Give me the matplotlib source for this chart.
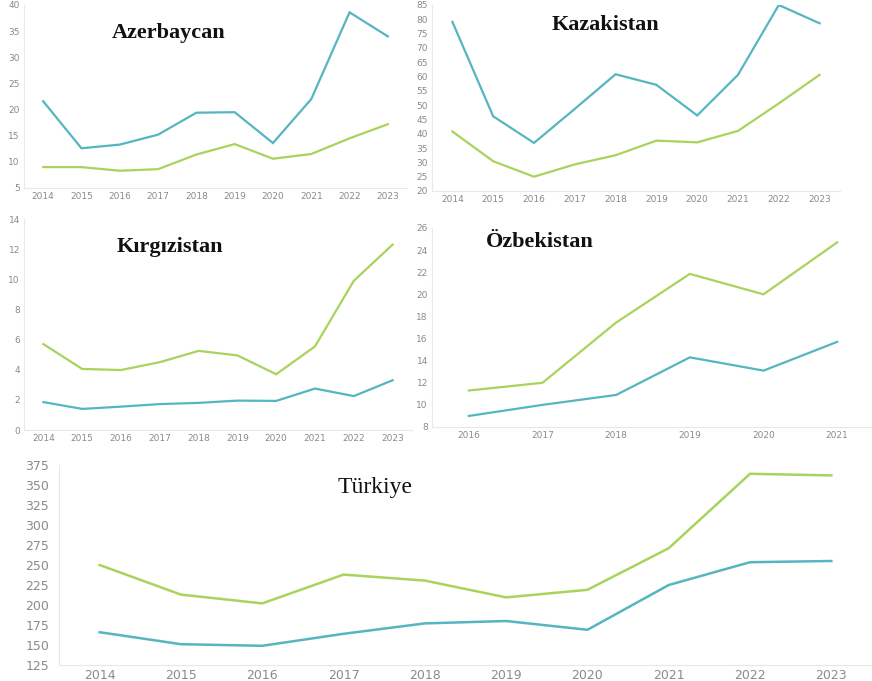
import numpy as np
import matplotlib
matplotlib.use('agg')
import matplotlib.pyplot as plt

## Data
years_full = ['2014', '2015', '2016', '2017', '2018', '2019', '2020', '2021', '2022', '2023']
years_uz = ['2016', '2017', '2018', '2019', '2020', '2021']

az_teal = [21.6, 12.6, 13.3, 15.2, 19.4, 19.5, 13.6, 22.0, 38.6, 34.0]
az_green = [9.0, 9.0, 8.3, 8.6, 11.4, 13.4, 10.6, 11.5, 14.5, 17.2]

kz_teal = [79.1, 46.1, 36.8, 48.7, 60.8, 57.1, 46.4, 60.6, 85.0, 78.6]
kz_green = [40.8, 30.4, 25.0, 29.3, 32.5, 37.6, 37.0, 41.0, 50.6, 60.6]

kg_teal = [1.85, 1.4, 1.55, 1.72, 1.8, 1.95, 1.93, 2.75, 2.25, 3.3]
kg_green = [5.7, 4.05, 3.98, 4.5, 5.25, 4.95, 3.7, 5.55, 9.9, 12.3]

uz_teal = [9.0, 10.0, 10.9, 14.3, 13.1, 15.7]
uz_green = [11.3, 12.0, 17.45, 21.85, 20.0, 24.7]

tr_teal = [166, 151, 149, 164, 177, 180, 169, 225, 253.5, 255]
tr_green = [250, 213, 202, 238, 230.5, 209.5, 219, 271, 364, 362]

TEAL = '#55b6c0'
GREEN = '#a8d35c'
W, H = 872, 681

fig = plt.figure(figsize=(W / 100, H / 100), dpi=100)


def add_panel(px_left, px_top, px_right, px_bottom, labels, teal, green, ylim, ystep,
              title, title_xy, title_kw, tick_size=6.5, ypad=3, lw=1.6):
    ax = fig.add_axes([px_left / W, 1 - px_bottom / H,
                       (px_right - px_left) / W, (px_bottom - px_top) / H])
    x = np.arange(len(labels))
    ax.plot(x, teal, color=TEAL, lw=lw, solid_joinstyle='miter')
    ax.plot(x, green, color=GREEN, lw=lw, solid_joinstyle='miter')
    ax.set_xlim(-0.5, len(labels) - 0.5)
    ax.set_ylim(*ylim)
    ax.set_yticks(np.arange(ylim[0], ylim[1] + 0.01, ystep))
    ax.set_xticks(x)
    ax.set_xticklabels(labels)
    for s in ['top', 'right']:
        ax.spines[s].set_visible(False)
    for s in ['left', 'bottom']:
        ax.spines[s].set_color('#e8e8e8')
        ax.spines[s].set_linewidth(0.8)
    ax.tick_params(length=0, labelsize=tick_size, labelcolor='#8a8a8a', pad=3)
    ax.tick_params(axis='y', pad=ypad)
    fig.text(title_xy[0] / W, 1 - title_xy[1] / H, title, ha='center', va='center',
             family='Liberation Serif', **title_kw)
    return ax


bold = dict(fontsize=16, fontweight='bold', color='#111111')

add_panel(24, 5, 407, 188, years_full, az_teal, az_green, (5, 40), 5,
          'Azerbaycan', (169, 33), bold)
add_panel(432, 5, 840, 191, years_full, kz_teal, kz_green, (20, 85), 5,
          'Kazakistan', (605, 25), bold)
add_panel(24, 219, 412, 430, years_full, kg_teal, kg_green, (0, 14), 2,
          'Kırgızistan', (170, 247), bold)
add_panel(432, 228, 874, 427, years_uz, uz_teal, uz_green, (8, 26), 2,
          'Özbekistan', (540, 242), bold)
add_panel(59, 465, 872, 665, years_full, tr_teal, tr_green, (125, 375), 25,
          'Türkiye', (375, 487), dict(fontsize=17, color='#111111'),
          tick_size=9, ypad=7, lw=1.8)

fig.savefig('out.png', dpi=100)
